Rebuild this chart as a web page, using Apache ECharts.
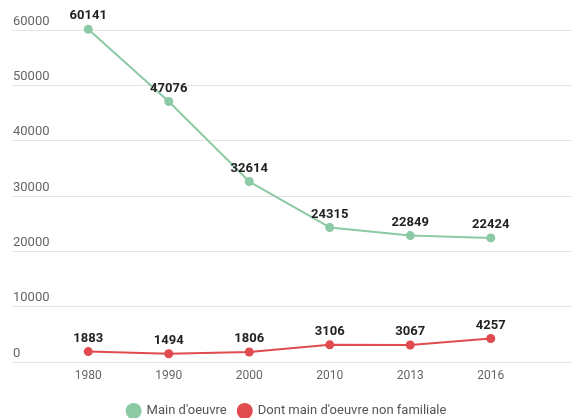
<!DOCTYPE html>
<html><head><meta charset="utf-8">
<script src="https://cdn.jsdelivr.net/npm/echarts@6/dist/echarts.min.js"></script>
<style>html,body{margin:0;padding:0;background:#fff}#c{width:572px;height:418px}</style>
</head><body><div id="c"></div>
<script>
const years = ['1980','1990','2000','2010','2013','2016'];
const mainOeuvre = [60141, 47076, 32614, 24315, 22849, 22424];
const nonFamiliale = [1883, 1494, 1806, 3106, 3067, 4257];
const seriesNames = ["Main d'oeuvre", "Dont main d'oeuvre non familiale"];
const colors = ['#8cc9a5', '#e04b4f'];

const chart = echarts.init(document.getElementById('c'));
const font = 'Roboto, sans-serif';
const lbl = {show: true, position: 'top', fontWeight: 'bold', color: '#222', fontSize: 13, distance: 2};
chart.setOption({
  animation: false,
  textStyle: {fontFamily: font},
  grid: [
    {left: 48, right: 41, top: 30, bottom: 56},
    {left: 12, right: 0, top: 30, bottom: 56}
  ],
  legend: {
    top: 398, left: 'center', icon: 'circle', itemWidth: 16, itemHeight: 16, itemGap: 10,
    textStyle: {fontSize: 13, color: '#555', fontFamily: font},
    data: seriesNames
  },
  xAxis: [
    {type: 'category', gridIndex: 0, data: years,
     axisLine: {show: false}, axisTick: {show: false},
     axisLabel: {color: '#666', fontSize: 12, margin: 8}},
    {type: 'value', gridIndex: 1, show: false, min: 0, max: 1}
  ],
  yAxis: [
    {type: 'value', gridIndex: 0, min: 0, max: 60000, interval: 10000, show: false},
    {type: 'value', gridIndex: 1, min: 0, max: 60000, interval: 10000,
     axisLine: {show: false}, axisTick: {show: false},
     splitLine: {lineStyle: {color: '#e4e4e4', width: 1}},
     axisLabel: {inside: true, margin: 1, verticalAlign: 'bottom', color: '#666', fontSize: 13,
                 padding: [0,0,2,0], formatter: v => String(v)}}
  ],
  series: [
    {name: seriesNames[0], type: 'line', xAxisIndex: 0, yAxisIndex: 0, data: mainOeuvre,
     color: colors[0], symbol: 'circle', symbolSize: 9, clip: false,
     lineStyle: {width: 2}, label: lbl},
    {name: seriesNames[1], type: 'line', xAxisIndex: 0, yAxisIndex: 0, data: nonFamiliale,
     color: colors[1], symbol: 'circle', symbolSize: 9, clip: false,
     lineStyle: {width: 2}, label: lbl}
  ]
});
</script></body></html>
